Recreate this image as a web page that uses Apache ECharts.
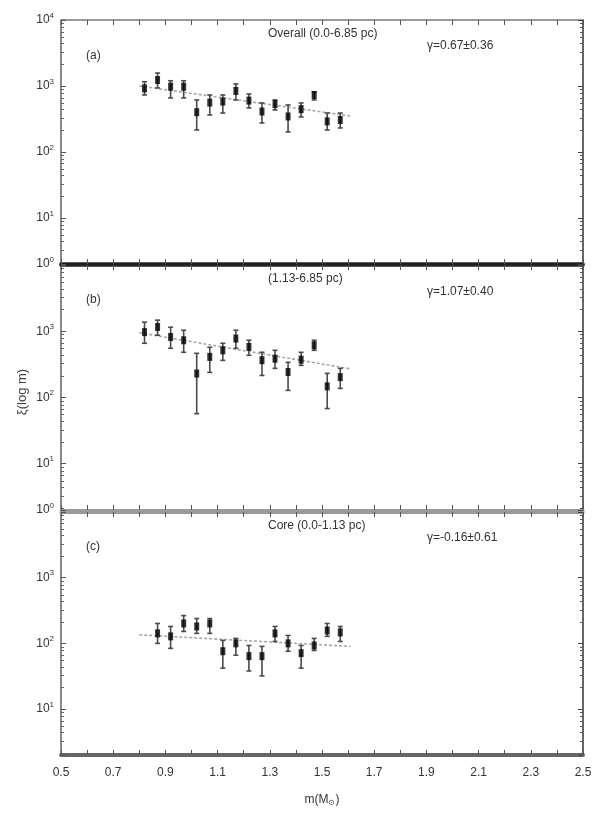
<!DOCTYPE html>
<html><head><meta charset="utf-8">
<script src="https://cdn.jsdelivr.net/npm/echarts@6/dist/echarts.min.js"></script>
<style>html,body{margin:0;padding:0;background:#fff}#c{width:595px;height:825px}</style>
</head><body><div id="c"></div>
<script>
// ---- data ----
const massAB = [0.82,0.87,0.92,0.97,1.02,1.07,1.12,1.17,1.22,1.27,1.32,1.37,1.42,1.47,1.52,1.57];
const valA = [920,1230,975,975,400,560,580,840,600,410,530,345,445,730,290,305];
const hiA  = [1160,1570,1200,1200,614,730,730,1073,756,552,614,515,552,811,389,389];
const loA  = [730,933,658,658,215,363,389,614,464,275,433,201,339,614,215,231];

const valB = [970,1160,820,730,230,410,515,775,580,365,385,242,372,614,147,203];
const hiB  = [1370,1470,1150,1035,464,573,658,1035,731,481,515,339,481,731,231,275];
const loB  = [658,870,552,481,57,239,363,552,433,215,275,128,305,515,68,137];

const massC = [0.87,0.92,0.97,1.02,1.07,1.12,1.17,1.22,1.27,1.32,1.37,1.42,1.47,1.52,1.57];
const valC = [142,128,201,181,201,76,100,64,64,142,100,71,93,157,147];
const hiC  = [201,181,265,239,239,111,119,93,90,181,132,93,119,201,181];
const loC  = [100,84,152,142,142,42,66,38,32,107,76,42,78,128,107];

const fitMass = [0.80, 1.61];
const fitA = [1000, 350];
const fitB = [950, 270];
const fitC = [135, 90];

const xTickLabels = ['0.5','0.7','0.9','1.1','1.3','1.5','1.7','1.9','2.1','2.3','2.5'];
const panelTitles = ['Overall (0.0-6.85 pc)', '(1.13-6.85 pc)', 'Core (0.0-1.13 pc)'];
const panelTags = ['(a)', '(b)', '(c)'];
const gammaTexts = ['\u03b3=0.67\u00b10.36', '\u03b3=1.07\u00b10.40', '\u03b3=-0.16\u00b10.61'];

// ---- chart ----
const FONT = '"Liberation Sans Narrow","Liberation Sans",Arial,sans-serif';
const chart = echarts.init(document.getElementById('c'), null, {renderer: 'canvas'});

const grids = [
  {left: 61, width: 522, top: 20, height: 244},
  {left: 61, width: 522, top: 265, height: 245},
  {left: 61, width: 522, top: 512, height: 243}
];
const lineCols = [
  {top: ['#9a9a9a', 2], bottom: ['#222', 3.5]},
  {top: ['#222', 3.5], bottom: ['#9a9a9a', 3]},
  {top: ['#9a9a9a', 3], bottom: ['#666', 4]}
];

const xAxes = [], yAxes = [];
grids.forEach((g, i) => {
  const showLab = i === 2;
  xAxes.push({
    type: 'value', gridIndex: i, position: 'bottom', min: 0.5, max: 2.5, interval: 0.1,
    axisLine: {lineStyle: {color: lineCols[i].bottom[0], width: lineCols[i].bottom[1]}},
    axisTick: {inside: true, length: 5, lineStyle: {color: '#555', width: 1}},
    splitLine: {show: false},
    axisLabel: {
      show: showLab, margin: 12, color: '#333', fontSize: 12, fontFamily: FONT,
      formatter: v => { const s = v.toFixed(1); return xTickLabels.includes(s) ? s : ''; }
    },
    name: showLab ? 'm(M{sub|\u2299})' : '', nameLocation: 'middle', nameGap: 38,
    nameTextStyle: {color: '#333', fontSize: 12, fontFamily: FONT,
      rich: {sub: {fontSize: 8, padding: [6, 0, 0, 0], fontFamily: FONT, color: '#333'}}}
  });
  xAxes.push({
    type: 'value', gridIndex: i, position: 'top', min: 0.5, max: 2.5, interval: 0.1,
    axisLine: {lineStyle: {color: lineCols[i].top[0], width: lineCols[i].top[1]}},
    axisTick: {inside: true, length: 5, lineStyle: {color: '#555', width: 1}},
    splitLine: {show: false}, axisLabel: {show: false}
  });
  yAxes.push({
    type: 'log', logBase: 10, gridIndex: i, position: 'left', min: 2, max: 10000,
    axisLine: {show: true, lineStyle: {color: '#8a8a8a', width: 2}},
    axisTick: {show: true, inside: true, length: 5, lineStyle: {color: '#555'}},
    minorTick: {show: true, splitNumber: 8, length: 3, lineStyle: {color: '#666'}},
    splitLine: {show: false}, minorSplitLine: {show: false},
    axisLabel: {
      show: true, margin: 7, color: '#333', fontSize: 12, fontFamily: FONT,
      showMaxLabel: i === 0,
      formatter: v => {
        if (v < 5) return i === 2 ? '' : '10{sup|0}';
        const e = Math.round(Math.log10(v));
        return '10{sup|' + e + '}';
      },
      rich: {sup: {fontSize: 8, padding: [0, 0, 9, 0], color: '#333', fontFamily: FONT}}
    }
  });
  yAxes.push({
    type: 'log', logBase: 10, gridIndex: i, position: 'right', min: 2, max: 10000,
    axisLine: {show: true, lineStyle: {color: '#333', width: 1.5}},
    axisTick: {show: true, inside: true, length: 5, lineStyle: {color: '#444'}},
    minorTick: {show: true, splitNumber: 8, length: 3, lineStyle: {color: '#555'}},
    splitLine: {show: false}, axisLabel: {show: false}
  });
});

function errSeries(mass, lo, hi, gi) {
  return {
    type: 'custom', xAxisIndex: gi * 2, yAxisIndex: gi * 2, z: 3,
    data: mass.map((m, k) => [m, lo[k], hi[k]]),
    renderItem: (params, api) => {
      const x = api.value(0);
      const p1 = api.coord([x, api.value(1)]);
      const p2 = api.coord([x, api.value(2)]);
      const w = 2.5;
      const st = {stroke: '#4a4a4a', lineWidth: 1.6};
      return {type: 'group', children: [
        {type: 'line', shape: {x1: p1[0], y1: p1[1], x2: p2[0], y2: p2[1]}, style: st},
        {type: 'line', shape: {x1: p1[0]-w, y1: p1[1], x2: p1[0]+w, y2: p1[1]}, style: st},
        {type: 'line', shape: {x1: p2[0]-w, y1: p2[1], x2: p2[0]+w, y2: p2[1]}, style: st}
      ]};
    }
  };
}
function ptSeries(mass, val, gi) {
  return {
    type: 'scatter', xAxisIndex: gi * 2, yAxisIndex: gi * 2, z: 4,
    symbol: 'rect', symbolSize: [5, 8], itemStyle: {color: '#000'},
    data: mass.map((m, k) => [m, val[k]])
  };
}
function fitSeries(vals, gi) {
  return {
    type: 'line', xAxisIndex: gi * 2, yAxisIndex: gi * 2, z: 2,
    showSymbol: false, symbol: 'none',
    lineStyle: {color: '#a8a8a8', width: 1.6, type: [3, 2]},
    data: fitMass.map((m, k) => [m, vals[k]])
  };
}

const series = [
  fitSeries(fitA, 0), errSeries(massAB, loA, hiA, 0), ptSeries(massAB, valA, 0),
  fitSeries(fitB, 1), errSeries(massAB, loB, hiB, 1), ptSeries(massAB, valB, 1),
  fitSeries(fitC, 2), errSeries(massC, loC, hiC, 2), ptSeries(massC, valC, 2)
];

const graphics = [];
const tagPos = [[86, 50], [86, 294], [86, 541]];
const titlePos = [[268, 28], [268, 273], [268, 520]];
const gamPos = [[427, 40], [427, 286], [427, 532]];
for (let i = 0; i < 3; i++) {
  graphics.push({type: 'text', left: tagPos[i][0], top: tagPos[i][1],
    style: {text: panelTags[i], font: '12px ' + FONT, fill: '#333'}});
  graphics.push({type: 'text', left: titlePos[i][0], top: titlePos[i][1],
    style: {text: panelTitles[i], font: '12px ' + FONT, fill: '#333'}});
  graphics.push({type: 'text', left: gamPos[i][0], top: gamPos[i][1],
    style: {text: gammaTexts[i], font: '12px ' + FONT, fill: '#333'}});
}
graphics.push({type: 'text', x: 22, y: 392, rotation: Math.PI / 2,
  style: {text: '\u03be(log m)', font: '13px ' + FONT, fill: '#444', align: 'center', verticalAlign: 'middle'}});

chart.setOption({
  animation: false,
  backgroundColor: '#fff',
  grid: grids,
  xAxis: xAxes,
  yAxis: yAxes,
  series: series,
  graphic: graphics
});
</script>
</body></html>
